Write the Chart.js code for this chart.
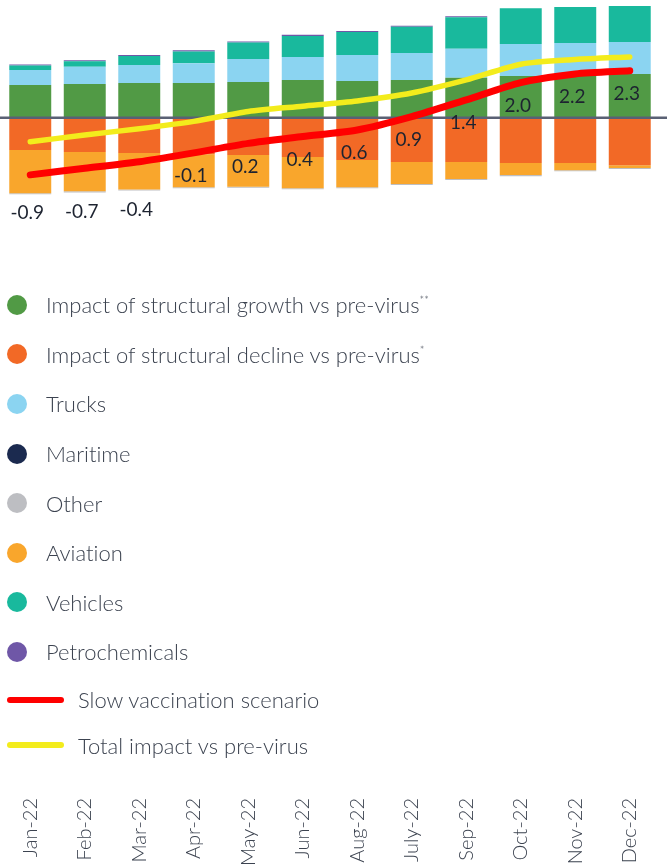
<!DOCTYPE html>
<html>
<head>
<meta charset="utf-8">
<script src="https://cdn.jsdelivr.net/npm/chart.js@4/dist/chart.umd.min.js"></script>
<style>
  body { margin: 0; background: #fff; }
  #wrap { position: relative; width: 667px; height: 867px; }
  #legend {
    position: absolute; left: 0; top: 280px; margin: 0; padding: 0; list-style: none;
    font-family: Lato, 'Open Sans', sans-serif; font-weight: 300; font-size: 22px; color: #3c4350;
    font-variant-ligatures: none;
  }
  #legend li { position: relative; display: flex; align-items: center; white-space: nowrap; }
  #legend li.dot { height: 49.6px; padding-left: 46px; }
  #legend li.line { height: 45.5px; padding-left: 78px; }
  #legend .swatch { position: absolute; }
  #legend li.dot .swatch { left: 7px; width: 20px; height: 20px; border-radius: 50%; }
  #legend li.line .swatch { left: 7px; width: 57px; height: 6px; border-radius: 3px; }
  #legend sup { font-size: 11px; vertical-align: 9px; }
</style>
</head>
<body>
<div id="wrap">
  <canvas id="chart" width="667" height="867"></canvas>
  <ul id="legend"></ul>
</div>
<script>
const months = ['Jan-22', 'Feb-22', 'Mar-22', 'Apr-22', 'May-22', 'Jun-22', 'Aug-22', 'July-22', 'Sep-22', 'Oct-22', 'Nov-22', 'Dec-22'];

// mb/d
const structuralGrowth = [1.25, 1.29, 1.32, 1.32, 1.36, 1.44, 1.40, 1.44, 1.52, 1.59, 1.67, 1.67];
const structuralDecline = [-1.23, -1.31, -1.35, -1.39, -1.42, -1.50, -1.61, -1.69, -1.69, -1.73, -1.73, -1.81];
const trucks = [0.57, 0.65, 0.69, 0.76, 0.88, 0.88, 0.99, 1.03, 1.11, 1.22, 1.18, 1.22];
const maritime = [0, 0, 0, 0, 0, 0, 0, 0, 0, 0, 0, 0];
const other = [-0.04, -0.04, -0.04, -0.04, -0.04, -0.04, -0.04, -0.04, -0.04, -0.04, -0.04, -0.04];
const aviation = [-1.65, -1.50, -1.39, -1.26, -1.21, -1.19, -1.04, -0.84, -0.65, -0.46, -0.27, -0.11];
const vehicles = [0.17, 0.21, 0.34, 0.45, 0.63, 0.80, 0.88, 1.00, 1.20, 1.37, 1.37, 1.37];
const petrochemicals = [0.04, 0.04, 0.04, 0.04, 0.04, 0.04, 0.04, 0.04, 0.04, 0, 0, 0];

const slowVaccination = [-2.18, -1.93, -1.68, -1.34, -0.98, -0.72, -0.47, 0.04, 0.68, 1.34, 1.67, 1.79];
const totalImpact = [-0.92, -0.66, -0.42, -0.14, 0.24, 0.44, 0.64, 0.94, 1.44, 2.04, 2.22, 2.32];

const Y_MIN = -4.36;
const Y_MAX = 4.49;

function bar(label, data, color, extra) {
  return Object.assign({type: 'bar', label: label, data: data, backgroundColor: color, borderWidth: 0}, extra || {});
}

function line(label, data, color, width) {
  return {
    type: 'line', label: label, data: data, yAxisID: 'y1', order: -1,
    borderColor: color, backgroundColor: color, borderWidth: width,
    borderCapStyle: 'round', borderJoinStyle: 'round',
    pointRadius: 0, tension: 0.25
  };
}

const zeroLine = {
  id: 'zeroLine',
  beforeDatasetsDraw(chart) {
    chart.$zeroDrawn = false;
  },
  beforeDatasetDraw(chart, args) {
    if (chart.$zeroDrawn || args.meta.type !== 'line') {
      return;
    }
    chart.$zeroDrawn = true;
    const y = chart.scales.y.getPixelForValue(0);
    const ctx = chart.ctx;
    ctx.save();
    ctx.strokeStyle = '#5a6174';
    ctx.lineWidth = 2.5;
    ctx.beginPath();
    ctx.moveTo(0, y);
    ctx.lineTo(chart.width, y);
    ctx.stroke();
    ctx.restore();
  }
};

// values of the total line written under the slow-vaccination line
const valueLabels = {
  id: 'valueLabels',
  afterDatasetsDraw(chart) {
    const ctx = chart.ctx;
    const datasets = chart.data.datasets;
    const slowIdx = datasets.findIndex(d => d.data === slowVaccination);
    const slowPoints = chart.getDatasetMeta(slowIdx).data;

    ctx.save();
    ctx.font = '400 19px Lato, "Open Sans", sans-serif';
    ctx.fillStyle = '#1d2330';
    ctx.textAlign = 'center';
    ctx.textBaseline = 'middle';

    totalImpact.forEach((value, i) => {
      let barBottom = 0;
      datasets.forEach((ds, di) => {
        if (ds.type !== 'bar') return;
        const el = chart.getDatasetMeta(di).data[i];
        barBottom = Math.max(barBottom, el.y, el.base);
      });

      let y = slowPoints[i].y + 23;
      if (barBottom - y < 10) {
        y = barBottom + 19;
      }
      ctx.fillText(value.toFixed(1), slowPoints[i].x - 3, y);
    });
    ctx.restore();
  }
};

const chart = new Chart(document.getElementById('chart'), {
  data: {
    labels: months,
    datasets: [
      bar('Impact of structural growth vs pre-virus**', structuralGrowth, '#519a45'),
      bar('Impact of structural decline vs pre-virus*', structuralDecline, '#f26926'),
      bar('Trucks', trucks, '#8bd4f1'),
      bar('Maritime', maritime, '#1b2a4f'),
      bar('Other', other, '#bdbec2', {order: 1}),
      bar('Aviation', aviation, '#f9a62c'),
      bar('Vehicles', vehicles, '#19b99d'),
      bar('Petrochemicals', petrochemicals, '#6f57a7'),
      line('Slow vaccination scenario', slowVaccination, '#ff0000', 7),
      line('Total impact vs pre-virus', totalImpact, '#f3ec1c', 5.5)
    ]
  },
  options: {
    responsive: false,
    animation: false,
    layout: {
      padding: {left: 3, right: 10, top: 0, bottom: 0}
    },
    datasets: {
      bar: {
        categoryPercentage: 1,
        barPercentage: 0.77
      }
    },
    scales: {
      x: {
        stacked: true,
        grid: {display: false, drawTicks: false},
        border: {display: false},
        ticks: {
          autoSkip: false,
          minRotation: 90,
          maxRotation: 90,
          padding: 566,
          color: '#3c4350',
          font: {family: 'Lato, "Open Sans", sans-serif', size: 20, weight: 300}
        },
        afterFit(scale) {
          // month labels sit far below the plot, under the legend
          scale.height = 635;
          scale.paddingLeft = 0;
          scale.paddingRight = 0;
        }
      },
      y: {
        stacked: true,
        display: false,
        min: Y_MIN,
        max: Y_MAX
      },
      y1: {
        display: false,
        min: Y_MIN,
        max: Y_MAX
      }
    },
    plugins: {
      legend: {display: false},
      tooltip: {enabled: false}
    }
  },
  plugins: [zeroLine, valueLabels]
});

// html legend sits in the gap between the plot and the month labels
const legendEl = document.getElementById('legend');
chart.data.datasets.forEach(ds => {
  const li = document.createElement('li');
  li.className = ds.type === 'line' ? 'line' : 'dot';
  const swatch = document.createElement('span');
  swatch.className = 'swatch';
  swatch.style.background = ds.type === 'line' ? ds.borderColor : ds.backgroundColor;
  li.appendChild(swatch);
  const text = document.createElement('span');
  text.innerHTML = ds.label.replace(/(\*+)$/, '<sup>$1</sup>');
  li.appendChild(text);
  legendEl.appendChild(li);
});
</script>
</body>
</html>
